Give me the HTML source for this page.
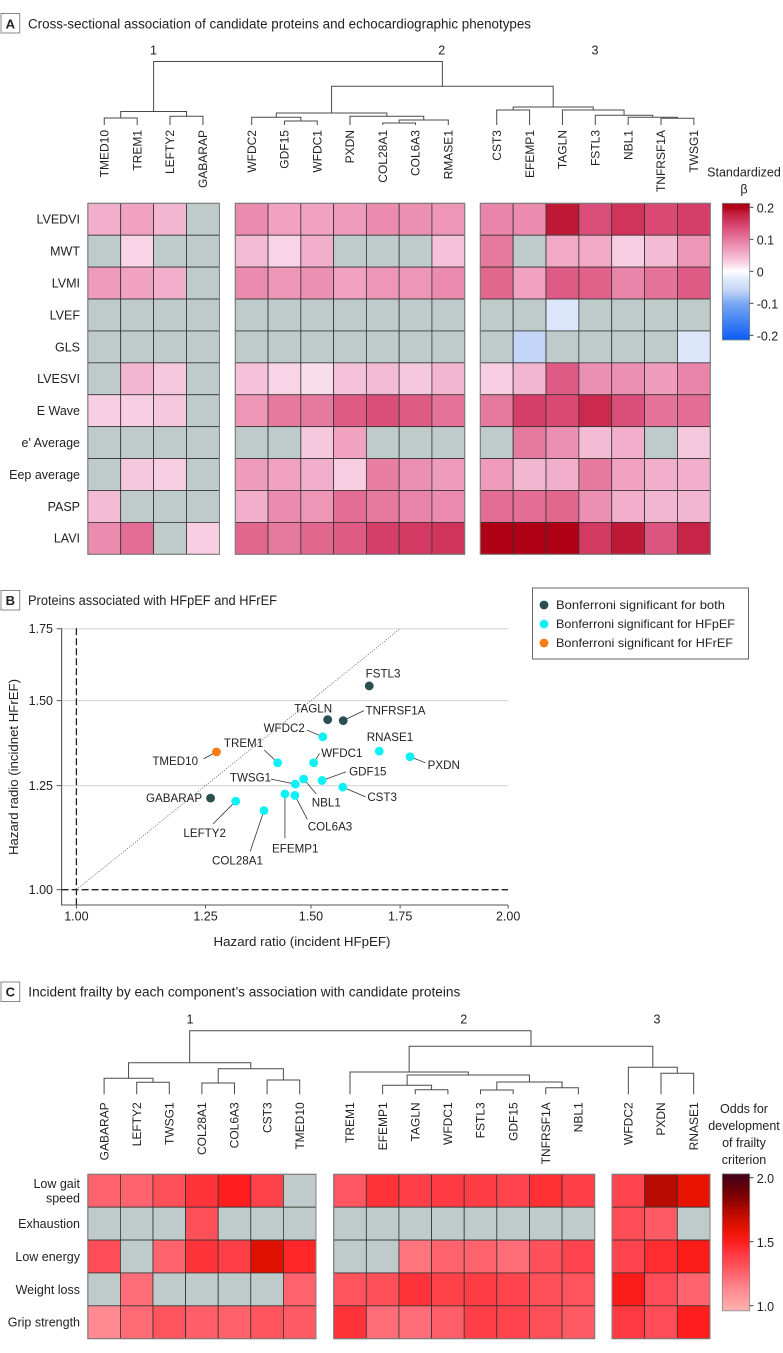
<!DOCTYPE html>
<html lang="en">
<head>
<meta charset="utf-8">
<title>Candidate proteins heatmaps and hazard ratio scatter</title>
<style>
html,body{margin:0;padding:0;background:#fff;}
svg{display:block;font-family:"Liberation Sans",Arial,sans-serif;fill:#222;}
</style>
</head>
<body>
<svg id="fig" xmlns="http://www.w3.org/2000/svg" width="783" height="1353" viewBox="0 0 783 1353">
  <g>
    <rect x="1" y="13.5" width="18.7" height="19.5" fill="#fff" stroke="#888" stroke-width="1"/>
    <text x="10.3" y="28.5" font-size="13" font-weight="bold" text-anchor="middle">A</text>
    <text x="28" y="28.5" font-size="13.5" textLength="503" lengthAdjust="spacingAndGlyphs">Cross-sectional association of candidate proteins and echocardiographic phenotypes</text>
  </g>
  <g>
    <rect x="1" y="590.5" width="18.7" height="19.5" fill="#fff" stroke="#888" stroke-width="1"/>
    <text x="10.3" y="605" font-size="13" font-weight="bold" text-anchor="middle">B</text>
    <text x="28" y="605" font-size="13.5" textLength="249" lengthAdjust="spacingAndGlyphs">Proteins associated with HFpEF and HFrEF</text>
  </g>
  <g>
    <rect x="1" y="982" width="18.7" height="19.5" fill="#fff" stroke="#888" stroke-width="1"/>
    <text x="10.3" y="996.5" font-size="13" font-weight="bold" text-anchor="middle">C</text>
    <text x="28.3" y="996.5" font-size="13.5" textLength="432" lengthAdjust="spacingAndGlyphs">Incident frailty by each component’s association with candidate proteins</text>
  </g>
  <defs id="defs"></defs>
  <g id="panelA"></g>
  <g id="panelB"></g>
  <g id="panelC"></g>
  <g>
    <rect x="532.5" y="588" width="216" height="71" fill="#fff" stroke="#666" stroke-width="1"/>
    <circle cx="544" cy="605" r="4.4" fill="#2a4f50"/>
    <text x="556" y="609" font-size="12" textLength="169" lengthAdjust="spacingAndGlyphs">Bonferroni significant for both</text>
    <circle cx="544" cy="624" r="4.4" fill="#0df0f5"/>
    <text x="556" y="628" font-size="12" textLength="179" lengthAdjust="spacingAndGlyphs">Bonferroni significant for HFpEF</text>
    <circle cx="544" cy="643" r="4.4" fill="#f97b13"/>
    <text x="556" y="647" font-size="12" textLength="177" lengthAdjust="spacingAndGlyphs">Bonferroni significant for HFrEF</text>
  </g>
</svg>
<script>
/* ---------- Panel A data ---------- */
const aRowNames = ["LVEDVI","MWT","LVMI","LVEF","GLS","LVESVI","E Wave","e' Average","Eep average","PASP","LAVI"];
const aCluster1 = ["TMED10","TREM1","LEFTY2","GABARAP"];
const aCluster2 = ["WFDC2","GDF15","WFDC1","PXDN","COL28A1","COL6A3","RMASE1"];
const aCluster3 = ["CST3","EFEMP1","TAGLN","FSTL3","NBL1","TNFRSF1A","TWSG1"];
const aLVEDVI = [.055,.065,.05,null, .085,.065,.065,.07,.085,.08,.075, .09,.085,.185,.135,.16,.14,.15];
const aMWT    = [null,.025,null,null, .045,.025,.055,null,null,null,.04, .1,null,.06,.06,.03,.045,.075];
const aLVMI   = [.07,.065,.055,null, .085,.075,.08,.065,.075,.075,.085, .115,.065,.125,.12,.09,.105,.125];
const aLVEF   = [null,null,null,null, null,null,null,null,null,null,null, null,null,-.03,null,null,null,null];
const aGLS    = [null,null,null,null, null,null,null,null,null,null,null, null,-.06,null,null,null,null,-.03];
const aLVESVI = [null,.05,.035,null, .04,.025,.02,.04,.045,.035,.05, .03,.05,.125,.08,.08,.07,.09];
const aEWave  = [.03,.03,.035,null, .075,.1,.1,.125,.135,.125,.105, .1,.15,.14,.17,.135,.105,.11];
const aEAvg   = [null,null,null,null, null,null,.035,.065,null,null,null, null,.1,.08,.045,.055,null,.035];
const aEep    = [null,.035,.03,null, .07,.065,.055,.03,.095,.08,.07, .07,.05,.055,.1,.065,.055,.055];
const aPASP   = [.045,null,null,null, .055,.085,.075,.11,.1,.09,.085, .11,.11,.115,.08,.055,.05,.05];
const aLAVI   = [.085,.11,null,.03, .115,.1,.115,.125,.15,.155,.16, .2,.2,.2,.155,.185,.13,.175];
const aValues = [aLVEDVI,aMWT,aLVMI,aLVEF,aGLS,aLVESVI,aEWave,aEAvg,aEep,aPASP,aLAVI];
const aBarTicks = [.2,.1,0,-.1,-.2];
const aBarTickLabels = ["0.2","0.1","0","-0.1","-0.2"];
/* linkage tree: [distance, left, right] */
const aTree = [63.5,
  [13.5,[7,"TMED10","TREM1"],[8.7,"LEFTY2","GABARAP"]],
  [38.7,
    [12,[7.7,"WFDC2",[4,"GDF15","WFDC1"]],[8.7,"PXDN",[5,[2,"COL28A1","COL6A3"],"RMASE1"]]],
    [18,[15,"CST3","EFEMP1"],[15,"TAGLN",[9.7,"FSTL3",[7.7,"NBL1",[6.7,"TNFRSF1A","TWSG1"]]]]]
  ]];

/* ---------- Panel B data ---------- */
const bNames = ["FSTL3","TAGLN","TNFRSF1A","WFDC2","RNASE1","PXDN","TMED10","TREM1","WFDC1","NBL1","GDF15","TWSG1","CST3","EFEMP1","COL6A3","GABARAP","LEFTY2","COL28A1"];
const bHRpEF = [1.659,1.544,1.586,1.531,1.688,1.773,1.274,1.416,1.507,1.481,1.529,1.460,1.585,1.434,1.459,1.261,1.317,1.383];
const bHRrEF = [1.548,1.440,1.437,1.388,1.346,1.330,1.344,1.313,1.313,1.268,1.264,1.254,1.246,1.228,1.224,1.217,1.209,1.185];
const bGroup = ["both","both","both","hfpef","hfpef","hfpef","hfref","hfpef","hfpef","hfpef","hfpef","hfpef","hfpef","hfpef","hfpef","both","hfpef","hfpef"];
const bXTicks = [1,1.25,1.5,1.75,2];
const bYTicks = [1,1.25,1.5,1.75];

/* ---------- Panel C data ---------- */
const cRowNames = [["Low gait","speed"],["Exhaustion"],["Low energy"],["Weight loss"],["Grip strength"]];
const cCluster1 = ["GABARAP","LEFTY2","TWSG1","COL28A1","COL6A3","CST3","TMED10"];
const cCluster2 = ["TREM1","EFEMP1","TAGLN","WFDC1","FSTL3","GDF15","TNFRSF1A","NBL1"];
const cCluster3 = ["WFDC2","PXDN","RNASE1"];
const cGait    = [1.25,1.25,1.32,1.42,1.5,1.37,null, 1.29,1.43,1.38,1.4,1.39,1.36,1.44,1.38, 1.36,1.73,1.6];
const cExhaust = [null,null,null,1.32,null,null,null, null,null,null,null,null,null,null,null, 1.33,1.28,null];
const cEnergy  = [1.33,null,1.25,1.42,1.38,1.62,1.47, null,null,1.2,1.25,1.25,1.22,1.31,1.36, 1.36,1.45,1.52];
const cWeight  = [null,1.22,null,null,null,null,1.25, 1.3,1.32,1.42,1.37,1.39,1.36,1.32,1.3, 1.52,1.33,1.25];
const cGrip    = [1.12,1.23,1.3,1.27,1.26,1.3,1.28, 1.42,1.22,1.22,1.27,1.38,1.36,1.32,1.28, 1.4,1.33,1.5];
const cValues = [cGait,cExhaust,cEnergy,cWeight,cGrip];
const cBarTicks = [2,1.5,1];
const cBarTickLabels = ["2.0","1.5","1.0"];
const cTree = [63.6,
  [31.6,[16,"GABARAP",[12,"LEFTY2","TWSG1"]],[25.6,[11.3,"COL28A1","COL6A3"],[14.3,"CST3","TMED10"]]],
  [48,
    [22.3,"TREM1",[19.3,[9,"EFEMP1",[4.6,"TAGLN","WFDC1"]],[12.3,[4.3,"FSTL3","GDF15"],[6.6,"TNFRSF1A","NBL1"]]]],
    [27,"WFDC2",[21,"PXDN","RNASE1"]]
  ]];

/* ---------- helpers ---------- */
const NS = "http://www.w3.org/2000/svg";
function mk(tag, name, parent, attrs){
  const el = document.createElementNS(NS, tag);
  
  
  for (const k in attrs) el.setAttribute(k, attrs[k]);
  parent.appendChild(el);
  return el;
}
function label(name, parent, str, x, y, size, anchor, extra){
  const el = mk('text', name, parent, Object.assign({x:x, y:y + size*0.35, 'font-size':size, 'text-anchor':anchor}, extra||{}));
  el.textContent = str;
  return el;
}
function lerpColor(stops, v){
  if (v <= stops[0][0]) return stops[0][1];
  for (let i = 1; i < stops.length; i++){
    if (v <= stops[i][0]){
      const t = (v - stops[i-1][0]) / (stops[i][0] - stops[i-1][0]);
      const a = stops[i-1][1], b = stops[i][1], out = [];
      for (let c = 1; c < 7; c += 2){
        const p = parseInt(a.substr(c,2),16), q = parseInt(b.substr(c,2),16);
        out.push(Math.round(p + (q-p)*t));
      }
      return 'rgb(' + out.join(',') + ')';
    }
  }
  return stops[stops.length-1][1];
}
const aStops = [[-.2147,'#0a5cf5'],[-.1,'#7aa8f0'],[-.06,'#c3d6f7'],[-.03,'#dbe6fa'],[0,'#ffffff'],[.025,'#f8d4e6'],[.05,'#f3b6d0'],[.07,'#ef9bbb'],[.09,'#e985a8'],[.11,'#e36d94'],[.13,'#dc5580'],[.15,'#d53e68'],[.17,'#cb2a4e'],[.185,'#be1a38'],[.2,'#b00016'],[.2125,'#a80014']];
const cStops = [[.96,'#ffb4b4'],[1,'#ffa8a8'],[1.12,'#ff8a92'],[1.22,'#ff6e78'],[1.3,'#ff545e'],[1.4,'#ff3a42'],[1.5,'#ff1e1e'],[1.6,'#e81200'],[1.73,'#b80a00'],[1.85,'#800000'],[2.03,'#400018']];
const NA_COLOR = '#bfcbca';

function drawHeatmap(g, prefix, cfg){
  const rowH = (cfg.bottom - cfg.top) / cfg.rows.length;
  const leafX = {};
  let col = 0;
  cfg.blocks.forEach(function(b, bi){
    const w = (b.x1 - b.x0) / b.names.length;
    b.names.forEach(function(nm, i){
      const cx = b.x0 + w*(i+.5);
      leafX[nm] = cx;
      const t = label(prefix + '-column-label', g, nm, cx, cfg.labelTop, cfg.geneSize, 'end');
      t.setAttribute('y', cfg.labelTop);
      t.setAttribute('dy', '.35em');
      t.setAttribute('transform', 'rotate(-90 ' + cx + ' ' + cfg.labelTop + ')');
      cfg.values.forEach(function(rowVals, r){
        const v = rowVals[col + i];
        mk('rect', prefix + '-cell', g, {
          x: b.x0 + w*i, y: cfg.top + rowH*r, width: w, height: rowH,
          fill: v === null ? NA_COLOR : lerpColor(cfg.stops, v),
          stroke: '#333', 'stroke-width': .8
        });
      });
    });
    mk('rect', prefix + '-block-border', g, {
      x: b.x0, y: cfg.top, width: b.x1-b.x0, height: cfg.bottom-cfg.top,
      fill: 'none', stroke: '#808080', 'stroke-width': 1
    });
    col += b.names.length;
  });
  cfg.rows.forEach(function(r, i){
    const cy = cfg.top + rowH*(i+.5);
    const lines = Array.isArray(r) ? r : [r];
    lines.forEach(function(line, li){
      label(prefix + '-row-label', g, line, 80, cy + (li - (lines.length-1)/2)*14.4, 12.5, 'end');
    });
  });
  /* dendrogram */
  const dy = function(d){ return cfg.leafY - d; };
  function walk(n){
    if (typeof n === 'string') return {x: leafX[n], y: cfg.leafY};
    const a = walk(n[1]), b = walk(n[2]), y = dy(n[0]);
    mk('path', prefix + '-dendrogram-link', g, {
      d: 'M' + a.x + ' ' + a.y + 'V' + y + 'H' + b.x + 'V' + b.y,
      fill: 'none', stroke: '#4a4a4a', 'stroke-width': 1
    });
    return {x: (a.x + b.x)/2, y: y};
  }
  walk(cfg.tree);
  cfg.clusterLabels.forEach(function(c){
    label(prefix + '-cluster-label', g, c[0], c[1], cfg.clusterY, 12.5, 'middle');
  });
  /* colour bar */
  const defs = document.getElementById('defs');
  const grad = document.createElementNS(NS, 'linearGradient');
  grad.setAttribute('id', prefix + '-grad');
  grad.setAttribute('x1', 0); grad.setAttribute('y1', 1); grad.setAttribute('x2', 0); grad.setAttribute('y2', 0);
  const lo = cfg.stops[0][0], hi = cfg.stops[cfg.stops.length-1][0];
  cfg.stops.forEach(function(s){
    const st = document.createElementNS(NS, 'stop');
    st.setAttribute('offset', (s[0]-lo)/(hi-lo));
    st.setAttribute('stop-color', s[1]);
    grad.appendChild(st);
  });
  defs.appendChild(grad);
  const barTop = cfg.barY(hi), barBottom = cfg.barY(lo);
  mk('rect', prefix + '-colorbar', g, {
    x: 722.3, y: barTop, width: 27.4, height: barBottom-barTop,
    fill: 'url(#' + prefix + '-grad)', stroke: '#888', 'stroke-width': .8
  });
  cfg.barTicks.forEach(function(v, i){
    const y = cfg.barY(v);
    mk('line', prefix + '-colorbar-tick', g, {x1: 749.7, x2: 753.5, y1: y, y2: y, stroke: '#444', 'stroke-width': 1});
    label(prefix + '-colorbar-tick-label', g, cfg.barLabels[i], 756.7, y+1, 12.5, 'start');
  });
  cfg.barTitle.forEach(function(line, i){
    label(prefix + '-colorbar-title', g, line, 744, cfg.barTitleY + i*cfg.barTitleGap, 12.5, 'middle');
  });
}

drawHeatmap(document.getElementById('panelA'), 'a', {
  top: 203.3, bottom: 554.3, rows: aRowNames, values: aValues, stops: aStops,
  blocks: [{x0:87.8,x1:219.4,names:aCluster1},{x0:235.3,x1:464.7,names:aCluster2},{x0:480.3,x1:710.3,names:aCluster3}],
  labelTop: 130, geneSize: 12, leafY: 125, tree: aTree,
  clusterLabels: [["1",153.5],["2",441.7],["3",595]], clusterY: 50,
  barY: function(v){ return 271.3 - v*320; },
  barTicks: aBarTicks, barLabels: aBarTickLabels,
  barTitle: ["Standardized","β"], barTitleY: 172, barTitleGap: 17
});

drawHeatmap(document.getElementById('panelC'), 'c', {
  top: 1174.3, bottom: 1338.7, rows: cRowNames, values: cValues, stops: cStops,
  blocks: [{x0:87.8,x1:316,names:cCluster1},{x0:333.7,x1:594.7,names:cCluster2},{x0:612,x1:710,names:cCluster3}],
  labelTop: 1102.3, geneSize: 12, leafY: 1094.3, tree: cTree,
  clusterLabels: [["1",190],["2",463.7],["3",657]], clusterY: 1019.3,
  barY: function(v){ return 1305.7 - (v-1)*128; },
  barTicks: cBarTicks, barLabels: cBarTickLabels,
  barTitle: ["Odds for","development","of frailty","criterion"], barTitleY: 1108.7, barTitleGap: 17
});

/* ---------- Panel B ---------- */
(function(){
  const g = document.getElementById('panelB');
  const axisLeft = 61.6, axisRight = 508, axisBottom = 905, axisTop = 628.3;
  const xScale = function(v){
    const base = 76.4 + 578.5*Math.log(Math.min(v,1.75));
    return v <= 1.75 ? base : base + (v-1.75)*432;
  };
  const yScale = function(v){ return 889.7 - 466.3*Math.log(v); };
  const groupColor = {both:'#2a4f50', hfpef:'#0df0f5', hfref:'#f97b13'};
  /* annotation placement relative to each point: [labelDx, labelDy, leaderDx, leaderDy] */
  const callouts = {
    FSTL3:[13.8,-12.7], TAGLN:[-14.5,-11.3], TNFRSF1A:[52.3,-10.3,20.7,-10], WFDC2:[-38.6,-9,-15.8,-6.7],
    RNASE1:[10.7,-14], PXDN:[33.7,8,15.2,6], TMED10:[-41.3,9.3,-13,7], TREM1:[-34.1,-19.7,-13.4,-12.7],
    WFDC1:[28.2,-10,5.9,-9.3], NBL1:[22.7,23.7,12.7,15], GDF15:[45.8,-9,24.1,-8.7], TWSG1:[-44.8,-6.7,-24.4,-5],
    CST3:[39.3,9.7,22.7,9.7], EFEMP1:[10.3,54.3,0,44.3], COL6A3:[35.1,31,12.4,24], GABARAP:[-36.5,-.3],
    LEFTY2:[-31,31.7,-22.7,22.7], COL28A1:[-26.5,49.7,-13.8,41]
  };
  bYTicks.forEach(function(v){
    const y = yScale(v);
    if (v !== 1) mk('line', 'b-gridline', g, {x1: axisLeft, x2: axisRight, y1: y, y2: y, stroke: '#d9d9d9', 'stroke-width': 1.3});
    mk('line', 'b-y-tick', g, {x1: axisLeft-5, x2: axisLeft, y1: y, y2: y, stroke: '#555', 'stroke-width': 1});
    label('b-y-tick-label', g, v.toFixed(2), 53, y, 12.5, 'end');
  });
  bXTicks.forEach(function(v){
    const x = xScale(v);
    mk('line', 'b-x-tick', g, {x1: x, x2: x, y1: axisBottom, y2: axisBottom+3.5, stroke: '#555', 'stroke-width': 1});
    label('b-x-tick-label', g, v.toFixed(2), x, 916, 12.5, 'middle');
  });
  mk('path', 'b-axis-lines', g, {d: 'M' + axisLeft + ' ' + axisTop + 'V' + axisBottom + 'H' + axisRight, fill: 'none', stroke: '#555', 'stroke-width': 1.1});
  mk('line', 'b-reference-line-horizontal', g, {x1: axisLeft, x2: axisRight, y1: yScale(1), y2: yScale(1), stroke: '#222', 'stroke-width': 1.3, 'stroke-dasharray': '7 3'});
  mk('line', 'b-reference-line-vertical', g, {x1: xScale(1), x2: xScale(1), y1: axisTop, y2: axisBottom, stroke: '#222', 'stroke-width': 1.3, 'stroke-dasharray': '7 3'});
  mk('line', 'b-identity-line', g, {x1: xScale(1), y1: yScale(1), x2: xScale(1.75), y2: yScale(1.75), stroke: '#666', 'stroke-width': .9, 'stroke-dasharray': '1 1.6'});
  bNames.forEach(function(nm, i){
    const px = xScale(bHRpEF[i]), py = yScale(bHRrEF[i]), c = callouts[nm];
    if (c.length > 2) mk('line', 'b-leader-line', g, {x1: px, y1: py, x2: px+c[2], y2: py+c[3], stroke: '#333', 'stroke-width': .8});
  });
  bNames.forEach(function(nm, i){
    const px = xScale(bHRpEF[i]), py = yScale(bHRrEF[i]), c = callouts[nm];
    mk('circle', 'b-point', g, {cx: px, cy: py, r: 4.4, fill: groupColor[bGroup[i]]});
    label('b-point-label', g, nm, px+c[0], py+c[1], 11.6, 'middle');
  });
  label('b-x-axis-title', g, 'Hazard ratio (incident HFpEF)', 302, 941.7, 12.5, 'middle', {textLength: 177, lengthAdjust: 'spacingAndGlyphs'});
  const yt = label('b-y-axis-title', g, 'Hazard radio (incidnet HFrEF)', 13.5, 767, 12.5, 'middle', {textLength: 176, lengthAdjust: 'spacingAndGlyphs'});
  yt.setAttribute('y', 767);
  yt.setAttribute('dy', '.35em');
  yt.setAttribute('transform', 'rotate(-90 13.5 767)');
})();
</script>
</body>
</html>
